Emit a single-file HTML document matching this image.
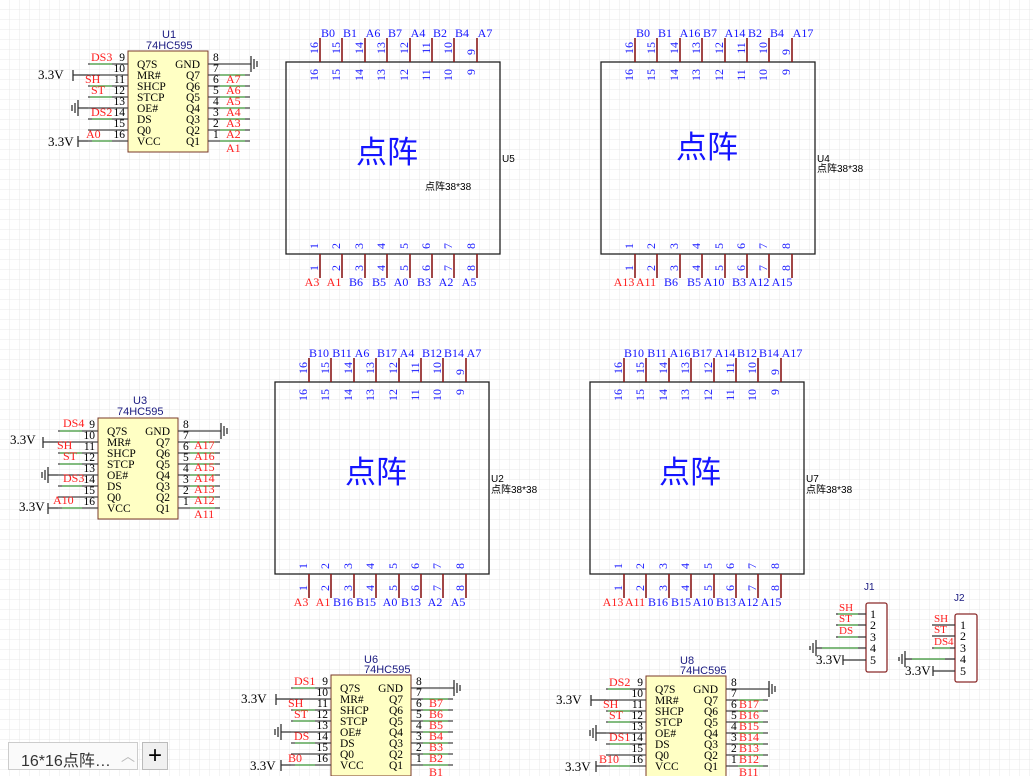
<!DOCTYPE html>
<html><head><meta charset="utf-8"><style>
html,body{margin:0;padding:0;background:#fff;}
svg{display:block;font-family:"Liberation Serif","Noto Serif CJK SC",serif;}
.b{fill:#1515ff}.r{fill:#ff2020}.k{fill:#000}.n{fill:#1a1a80;font-family:"Liberation Sans",sans-serif}
.tab{position:absolute;left:8px;top:742px;width:130px;height:28px;border:1px solid #ccc;background:#fafafa;font:16px "Liberation Sans","Noto Sans CJK SC",sans-serif;color:#333;box-sizing:border-box;padding:4px 0 0 12px}
.plus{position:absolute;left:142px;top:742px;width:26px;height:28px;border:1px solid #bbb;background:#f0f0f0;font:24px "Liberation Sans",sans-serif;text-align:center;line-height:26px;box-sizing:border-box}
</style></head><body>
<div style="position:relative;width:1033px;height:776px;overflow:hidden">
<svg width="1033" height="776" viewBox="0 0 1033 776">
<defs>
<pattern id="g" width="10" height="10" patternUnits="userSpaceOnUse"><path d="M10 0V10H0" fill="none" stroke="#e9e9e9" stroke-width="1"/></pattern>
</defs>
<rect width="1033" height="776" fill="url(#g)"/>

<!-- chip U1 -->
<g id="u1" font-size="11.5">
<rect x="128" y="51" width="80" height="101" fill="#ffffc4" stroke="#7a3a2a"/>
<path d="M88 64H128M88 75H128M88 86H128M88 97H128M88 108H128M88 119H128M88 130H128M88 141H128M208 64H250M208 75H250M208 86H250M208 97H250M208 108H250M208 119H250M208 130H250M208 141H250" stroke="#444" stroke-width="1.3"/>
<path d="M90 64H112M90 86H112M90 97H112M92 119H112M92 141H112M220 75H245M220 86H245M220 97H245M220 108H245M220 119H245M220 130H245M220 141H245" stroke="#55b050" stroke-width="1.3"/>
<g class="k"><text x="137" y="68">Q7S</text><text x="137" y="79">MR#</text><text x="137" y="90">SHCP</text><text x="137" y="101">STCP</text><text x="137" y="112">OE#</text><text x="137" y="123">DS</text><text x="137" y="134">Q0</text><text x="137" y="145">VCC</text></g>
<g class="k" text-anchor="end"><text x="200" y="68">GND</text><text x="200" y="79">Q7</text><text x="200" y="90">Q6</text><text x="200" y="101">Q5</text><text x="200" y="112">Q4</text><text x="200" y="123">Q3</text><text x="200" y="134">Q2</text><text x="200" y="145">Q1</text></g>
<g class="k" text-anchor="end"><text x="125" y="61">9</text><text x="125" y="72">10</text><text x="125" y="83">11</text><text x="125" y="94">12</text><text x="125" y="105">13</text><text x="125" y="116">14</text><text x="125" y="127">15</text><text x="125" y="138">16</text></g>
<g class="k"><text x="213" y="61">8</text><text x="213" y="72">7</text><text x="213" y="83">6</text><text x="213" y="94">5</text><text x="213" y="105">4</text><text x="213" y="116">3</text><text x="213" y="127">2</text><text x="213" y="138">1</text></g>
<path d="M73 75H88M73 70V81M78 141H88M78 136V147M78 108H88M78 100V116M75 103V113M72 105V111M250 64H251M251 56V72M254 59V69M257 61V67" stroke="#333" stroke-width="1.3" fill="none"/>
</g>
<g font-size="13" class="k"><text x="38" y="79">3.3V</text><text x="48" y="146">3.3V</text></g>
<g class="r" font-size="12"><text x="91" y="61">DS3</text><text x="85" y="83">SH</text><text x="91" y="94">ST</text><text x="91" y="116">DS2</text><text x="86" y="138">A0</text>
<text x="226" y="83">A7</text><text x="226" y="94">A6</text><text x="226" y="105">A5</text><text x="226" y="116">A4</text><text x="226" y="127">A3</text><text x="226" y="138">A2</text><text x="226" y="152">A1</text></g>
<g class="n" font-size="11"><text x="162" y="38">U1</text><text x="146" y="49">74HC595</text></g>

<!-- U3 -->
<g transform="translate(-30,367)"><use href="#u1"/></g>
<g font-size="13" class="k"><text x="10" y="444">3.3V</text><text x="19" y="511">3.3V</text></g>
<g class="r" font-size="12"><text x="63" y="427">DS4</text><text x="57" y="449">SH</text><text x="63" y="460">ST</text><text x="63" y="482">DS3</text><text x="53" y="504">A10</text>
<text x="194" y="449">A17</text><text x="194" y="460">A16</text><text x="194" y="471">A15</text><text x="194" y="482">A14</text><text x="194" y="493">A13</text><text x="194" y="504">A12</text><text x="194" y="518">A11</text></g>
<g class="n" font-size="11"><text x="133" y="404">U3</text><text x="117" y="415">74HC595</text></g>

<!-- U6 -->
<g transform="translate(203,624)"><use href="#u1"/></g>
<g font-size="13" class="k"><text x="241" y="703">3.3V</text><text x="250" y="770">3.3V</text></g>
<g class="r" font-size="12"><text x="294" y="685">DS1</text><text x="288" y="707">SH</text><text x="294" y="718">ST</text><text x="294" y="740">DS</text><text x="288" y="762">B0</text>
<text x="429" y="707">B7</text><text x="429" y="718">B6</text><text x="429" y="729">B5</text><text x="429" y="740">B4</text><text x="429" y="751">B3</text><text x="429" y="762">B2</text><text x="429" y="776">B1</text></g>
<g class="n" font-size="11"><text x="364" y="663">U6</text><text x="364" y="673">74HC595</text></g>

<!-- U8 -->
<g transform="translate(518,625)"><use href="#u1"/></g>
<g font-size="13" class="k"><text x="556" y="704">3.3V</text><text x="565" y="771">3.3V</text></g>
<g class="r" font-size="12"><text x="609" y="686">DS2</text><text x="603" y="708">SH</text><text x="609" y="719">ST</text><text x="609" y="741">DS1</text><text x="599" y="763">B10</text>
<text x="739" y="708">B17</text><text x="739" y="719">B16</text><text x="739" y="730">B15</text><text x="739" y="741">B14</text><text x="739" y="752">B13</text><text x="739" y="763">B12</text><text x="739" y="776">B11</text></g>
<g class="n" font-size="11"><text x="680" y="664">U8</text><text x="680" y="674">74HC595</text></g>

<!-- matrix template -->
<g id="m1" transform="translate(286,62)">
<rect x="0" y="0" width="214" height="192" fill="none" stroke="#222" stroke-width="1.3"/>
<path d="M34 -24V0M56 -24V0M79 -24V0M101 -24V0M124 -24V0M146 -24V0M168 -24V0M191 -24V0M34 192V216M56 192V216M79 192V216M101 192V216M124 192V216M146 192V216M168 192V216M191 192V216" stroke="#8b1a1a" stroke-width="1.6"/>
<g transform="rotate(-90)" class="b" font-size="12" text-anchor="middle">
<text x="14" y="32">16</text><text x="14" y="54">15</text><text x="14" y="77">14</text><text x="14" y="99">13</text><text x="14" y="122">12</text><text x="14" y="144">11</text><text x="14" y="166">10</text><text x="10" y="189">9</text>
<text x="-13" y="32">16</text><text x="-13" y="54">15</text><text x="-13" y="77">14</text><text x="-13" y="99">13</text><text x="-13" y="122">12</text><text x="-13" y="144">11</text><text x="-13" y="166">10</text><text x="-10" y="189">9</text>
<text x="-184" y="32">1</text><text x="-184" y="54">2</text><text x="-184" y="77">3</text><text x="-184" y="99">4</text><text x="-184" y="122">5</text><text x="-184" y="144">6</text><text x="-184" y="166">7</text><text x="-184" y="189">8</text>
<text x="-206" y="32">1</text><text x="-206" y="54">2</text><text x="-206" y="77">3</text><text x="-206" y="99">4</text><text x="-206" y="122">5</text><text x="-206" y="144">6</text><text x="-206" y="166">7</text><text x="-206" y="189">8</text>
</g>
</g>
<use href="#m1" transform="translate(315,0)"/>
<use href="#m1" transform="translate(-11,320)"/>
<use href="#m1" transform="translate(304,320)"/>

<g font-family="'Liberation Sans','Noto Sans CJK SC',sans-serif" fill="#1515ff" font-size="31" text-anchor="middle">
<text x="387" y="163">点阵</text><text x="707" y="158">点阵</text><text x="376" y="483">点阵</text><text x="690" y="483">点阵</text></g>
<g font-family="'Liberation Sans','Noto Sans CJK SC',sans-serif" font-size="10" fill="#000">
<text x="502" y="162">U5</text><text x="425" y="190">点阵38*38</text>
<text x="817" y="162">U4</text><text x="817" y="172">点阵38*38</text>
<text x="491" y="482">U2</text><text x="491" y="493">点阵38*38</text>
<text x="806" y="482">U7</text><text x="806" y="493">点阵38*38</text></g>

<g font-size="12" text-anchor="middle">
<!-- U5 -->
<g class="b"><text x="328" y="37">B0</text><text x="350" y="37">B1</text><text x="373" y="37">A6</text><text x="395" y="37">B7</text><text x="418" y="37">A4</text><text x="440" y="37">B2</text><text x="462" y="37">B4</text><text x="485" y="37">A7</text>
<text x="356" y="286">B6</text><text x="379" y="286">B5</text><text x="401" y="286">A0</text><text x="424" y="286">B3</text><text x="446" y="286">A2</text><text x="469" y="286">A5</text></g>
<g class="r"><text x="312" y="286">A3</text><text x="334" y="286">A1</text></g>
<!-- U4 -->
<g class="b"><text x="643" y="37">B0</text><text x="665" y="37">B1</text><text x="690" y="37">A16</text><text x="710" y="37">B7</text><text x="735" y="37">A14</text><text x="755" y="37">B2</text><text x="777" y="37">B4</text><text x="803" y="37">A17</text>
<text x="671" y="286">B6</text><text x="694" y="286">B5</text><text x="714" y="286">A10</text><text x="739" y="286">B3</text><text x="759" y="286">A12</text><text x="782" y="286">A15</text></g>
<g class="r"><text x="624" y="286">A13</text><text x="646" y="286">A11</text></g>
<!-- U2 -->
<g class="b"><text x="319" y="357">B10</text><text x="342" y="357">B11</text><text x="362" y="357">A6</text><text x="387" y="357">B17</text><text x="407" y="357">A4</text><text x="432" y="357">B12</text><text x="454" y="357">B14</text><text x="474" y="357">A7</text>
<text x="343" y="606">B16</text><text x="366" y="606">B15</text><text x="390" y="606">A0</text><text x="411" y="606">B13</text><text x="435" y="606">A2</text><text x="458" y="606">A5</text></g>
<g class="r"><text x="301" y="606">A3</text><text x="323" y="606">A1</text></g>
<!-- U7 -->
<g class="b"><text x="634" y="357">B10</text><text x="657" y="357">B11</text><text x="680" y="357">A16</text><text x="702" y="357">B17</text><text x="725" y="357">A14</text><text x="747" y="357">B12</text><text x="769" y="357">B14</text><text x="792" y="357">A17</text>
<text x="658" y="606">B16</text><text x="681" y="606">B15</text><text x="703" y="606">A10</text><text x="726" y="606">B13</text><text x="748" y="606">A12</text><text x="771" y="606">A15</text></g>
<g class="r"><text x="613" y="606">A13</text><text x="635" y="606">A11</text></g>
</g>

<!-- J1 -->
<rect x="866" y="603" width="21" height="69" rx="2" fill="#fff" stroke="#8b2a2a" stroke-width="1.3"/>
<path d="M836 614H866M836 625H866M836 637H866M816 648H866M843 660H866M843 655V665M816 640V656M813 643V653M810 646V650" stroke="#333" stroke-width="1.3"/>
<path d="M838 614H858M838 625H858M838 637H858M822 648H858" stroke="#55b050" stroke-width="1.3"/>
<g class="k" font-size="12"><text x="870" y="618">1</text><text x="870" y="629">2</text><text x="870" y="641">3</text><text x="870" y="652">4</text><text x="870" y="664">5</text></g>
<g class="r" font-size="11"><text x="839" y="611">SH</text><text x="839" y="622">ST</text><text x="839" y="634">DS</text></g>
<text x="816" y="664" class="k" font-size="13">3.3V</text>
<text x="864" y="590" class="n" font-size="10">J1</text>
<!-- J2 -->
<rect x="955" y="614" width="22" height="68" rx="2" fill="#fff" stroke="#8b2a2a" stroke-width="1.3"/>
<path d="M932 625H955M932 636H955M932 648H955M905 659H955M933 671H955M933 666V676M905 651V667M902 654V664M899 657V661" stroke="#333" stroke-width="1.3"/>
<path d="M934 648H950M912 659H945" stroke="#55b050" stroke-width="1.3"/>
<g class="k" font-size="12"><text x="960" y="629">1</text><text x="960" y="640">2</text><text x="960" y="652">3</text><text x="960" y="663">4</text><text x="960" y="675">5</text></g>
<g class="r" font-size="11"><text x="934" y="622">SH</text><text x="934" y="633">ST</text><text x="934" y="645">DS4</text></g>
<text x="905" y="675" class="k" font-size="13">3.3V</text>
<text x="954" y="601" class="n" font-size="10">J2</text>
</svg>
<div class="tab">16*16点阵…<span style="position:absolute;left:112px;top:3px;color:#bbb;font-size:14px">︿</span></div>
<div class="plus">+</div>
</div>
</body></html>
